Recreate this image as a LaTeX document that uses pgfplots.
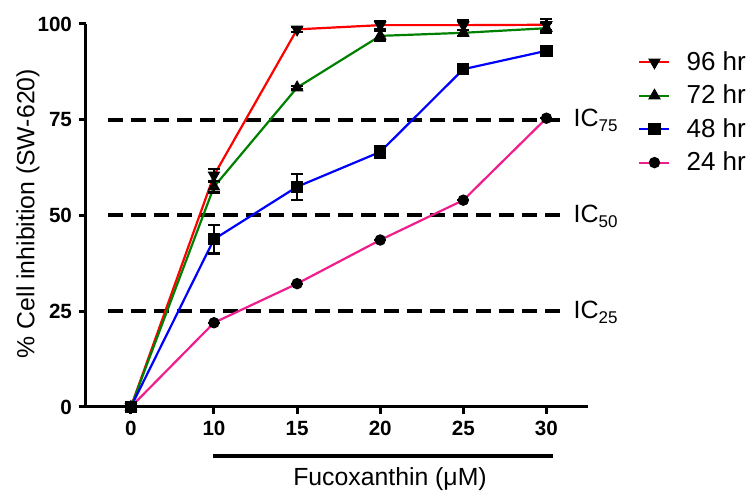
\documentclass[border=0pt]{standalone}
\usepackage{fontspec}
\setmainfont{Liberation Sans}
\usepackage{pgfplots}
\pgfplotsset{compat=1.18}
\definecolor{c96}{RGB}{255,0,0}
\definecolor{c72}{RGB}{0,128,0}
\definecolor{c48}{RGB}{0,0,255}
\definecolor{c24}{RGB}{240,30,140}

\pgfplotsset{
  series/.style={line width=1.1pt, mark options={solid, fill=black, draw=black, line width=0.5pt},
    error bars/y dir=both, error bars/y explicit,
    error bars/error bar style={black, line width=1.1pt},
    error bars/error mark options={rotate=90, mark size=3pt, black, line width=1.1pt}},
  icline/.style={forget plot, black, line width=2pt, dash pattern=on 7.5pt off 4pt},
}
\newcommand{\IC}[1]{IC\raisebox{-2.5pt}{\fontsize{8.5}{10}\selectfont #1}}

\begin{document}
\begin{tikzpicture}
\useasboundingbox (0,0) rectangle (374.5pt,246pt);
\begin{axis}[
  at={(43pt,42.5pt)}, anchor=south west,
  scale only axis, width=251pt, height=191.5pt,
  xmin=-0.54, xmax=5.5, ymin=0, ymax=100,
  axis x line*=bottom, axis y line*=left,
  axis line style={line width=1.5pt},
  xtick={0,...,5}, xticklabels={0,10,15,20,25,30},
  ytick={0,25,50,75,100}, yticklabels={0,25,50,75,100},
  tick align=outside, major tick length=3.5pt,
  tick style={line width=1.5pt, black},
  ticklabel style={font=\fontsize{10.3}{12}\selectfont\bfseries},
  xlabel={Fucoxanthin (μM)},
  xlabel style={at={(axis description cs:0.6056,0)}, anchor=base, yshift=-39pt, font=\fontsize{12.4}{15}\selectfont},
  ylabel={\% Cell inhibition (SW-620)},
  ylabel style={at={(axis description cs:-0.1026,0.505)}, anchor=base, font=\fontsize{12.4}{15}\selectfont},
  clip=false,
  legend cell align=left,
  legend style={draw=none, fill=none, at={(axis description cs:1.0996,0.94)}, anchor=north west,
    font=\fontsize{13}{15}\selectfont, row sep=1.8pt, inner sep=0pt,
    /tikz/every odd column/.append style={column sep=6pt}},
  legend image code/.code={\draw[mark repeat=2,mark phase=2] plot coordinates {(0pt,0pt) (7.5pt,0pt) (15pt,0pt)};},
]
\addplot[icline] coordinates {(-0.273,75) (5.19,75)};
\addplot[icline] coordinates {(-0.273,50) (5.19,50)};
\addplot[icline] coordinates {(-0.273,25) (5.19,25)};

\addplot[series, c96, mark=triangle*, mark size=3.2pt, mark options={solid, fill=black, draw=black, line width=0.5pt, rotate=180}] coordinates {
  (0,0) +- (0,0) (1,60.5) +- (0,1.6) (2,98.6) +- (0,0.6) (3,99.7) +- (0,1.0) (4,99.7) +- (0,1.2) (5,99.8) +- (0,1.5)};
\addlegendentry{96 hr}
\addplot[series, c72, mark=triangle*, mark size=3.2pt] coordinates {
  (0,0) +- (0,0) (1,57.5) +- (0,1.5) (2,83.4) +- (0,0.5) (3,96.9) +- (0,1.2) (4,97.7) +- (0,0.8) (5,98.9) +- (0,1.3)};
\addlegendentry{72 hr}
\addplot[series, c48, mark=square*, mark size=2.8pt] coordinates {
  (0,0) +- (0,0) (1,43.8) +- (0,3.7) (2,57.5) +- (0,3.4) (3,66.6) +- (0,1.5) (4,88.2) +- (0,0.5) (5,93.0) +- (0,0.5)};
\addlegendentry{48 hr}
\addplot[series, c24, mark=*, mark size=2.6pt] coordinates {
  (0,0) +- (0,0) (1,22.0) +- (0,0) (2,32.2) +- (0,0) (3,43.6) +- (0,0) (4,54.0) +- (0,0) (5,75.4) +- (0,0)};
\addlegendentry{24 hr}

\node[anchor=base west, inner sep=0pt, xshift=5.5pt, yshift=-3.5pt, font=\fontsize{12.5}{15}\selectfont] at (axis cs:5.19,75) {\IC{75}};
\node[anchor=base west, inner sep=0pt, xshift=5.5pt, yshift=-3.5pt, font=\fontsize{12.5}{15}\selectfont] at (axis cs:5.19,50) {\IC{50}};
\node[anchor=base west, inner sep=0pt, xshift=5.5pt, yshift=-3.5pt, font=\fontsize{12.5}{15}\selectfont] at (axis cs:5.19,25) {\IC{25}};
\draw[line width=2pt] ([yshift=-24.3pt]axis cs:0.987,0) -- ([yshift=-24.3pt]axis cs:5.076,0);
\end{axis}
\end{tikzpicture}
\end{document}
